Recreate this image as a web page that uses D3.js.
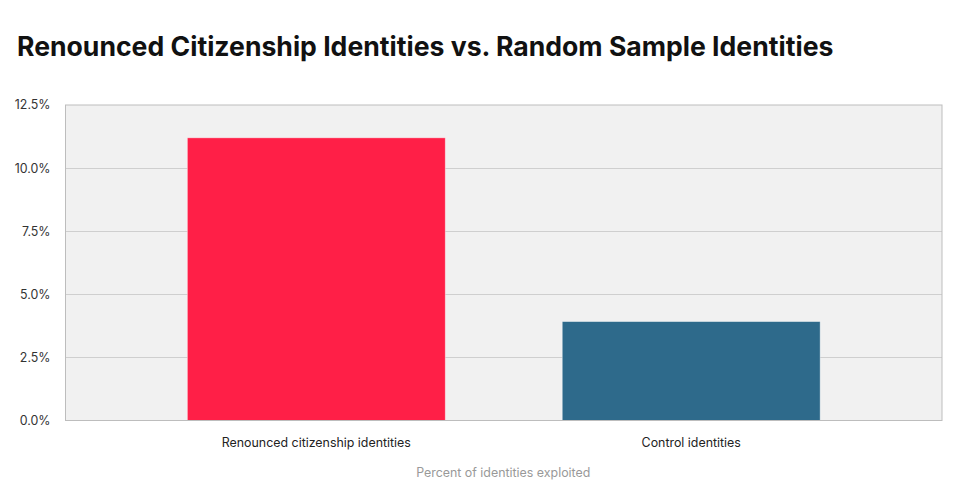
<!DOCTYPE html>
<html><head><meta charset="utf-8">
<script src="https://cdn.jsdelivr.net/npm/d3@7"></script>
<style>
html,body{margin:0;padding:0;background:#fff;}
svg{display:block;font-family:Inter,"Noto Sans",sans-serif;}
</style></head>
<body><svg id="c" width="960" height="494"></svg>
<script>
const title = "Renounced Citizenship Identities vs. Random Sample Identities";
const categories = ["Renounced citizenship identities", "Control identities"];
const values = [11.2, 3.92];
const colors = ["#ff1f47", "#2e6a8b"];
const yTicks = [0, 2.5, 5, 7.5, 10, 12.5];
const xAxisTitle = "Percent of identities exploited";

const svg = d3.select("#c");
const m = {left: 65.5, right: 942, top: 105, bottom: 420.5};

svg.append("text").attr("x", 17).attr("y", 56)
  .attr("font-size", 26.6).attr("font-weight", 700).attr("fill", "#111")
  .text(title);

const x = d3.scaleBand().domain(categories).range([m.left, m.right])
  .paddingInner(0.312).paddingOuter(0.325);
const y = d3.scaleLinear().domain([0, 12.5]).range([m.bottom, m.top]);

svg.append("rect").attr("x", m.left).attr("y", m.top)
  .attr("width", m.right - m.left).attr("height", m.bottom - m.top)
  .attr("fill", "#f1f1f1");

svg.append("g").selectAll("line").data(yTicks.slice(1, -1)).join("line")
  .attr("x1", m.left).attr("x2", m.right)
  .attr("y1", d => Math.round(y(d)) + 0.5).attr("y2", d => Math.round(y(d)) + 0.5)
  .attr("stroke", "#cfcfcf").attr("stroke-width", 1);

svg.append("g").selectAll("rect").data(categories).join("rect")
  .attr("x", d => x(d)).attr("width", x.bandwidth())
  .attr("y", (d, i) => y(values[i])).attr("height", (d, i) => m.bottom - y(values[i]))
  .attr("fill", (d, i) => colors[i])
  .attr("stroke", "rgba(255,255,255,0.5)").attr("stroke-width", 0.8);

svg.append("rect").attr("x", m.left).attr("y", m.top)
  .attr("width", m.right - m.left).attr("height", m.bottom - m.top)
  .attr("fill", "none").attr("stroke", "#bdbdbd").attr("stroke-width", 1);

const yAxis = d3.axisLeft(y).tickValues(yTicks).tickSize(0).tickPadding(15)
  .tickFormat(d => d.toFixed(1) + "%");
const ya = svg.append("g").attr("transform", `translate(${m.left},0)`).call(yAxis);
ya.select(".domain").remove();
ya.selectAll("text").attr("font-size", 12.4).attr("fill", "#333")
  .attr("font-family", "Inter,'Noto Sans',sans-serif");

const xAxis = d3.axisBottom(x).tickSize(0).tickPadding(18);
const xa = svg.append("g").attr("transform", `translate(0,${m.bottom})`).call(xAxis);
xa.select(".domain").remove();
xa.selectAll("text").attr("font-size", 12.4).attr("fill", "#222")
  .attr("font-family", "Inter,'Noto Sans',sans-serif");

svg.append("text").attr("x", (m.left + m.right) / 2 - 0.5).attr("y", 476.5)
  .attr("text-anchor", "middle").attr("font-size", 12.4).attr("fill", "#999")
  .text(xAxisTitle);
</script></body></html>
